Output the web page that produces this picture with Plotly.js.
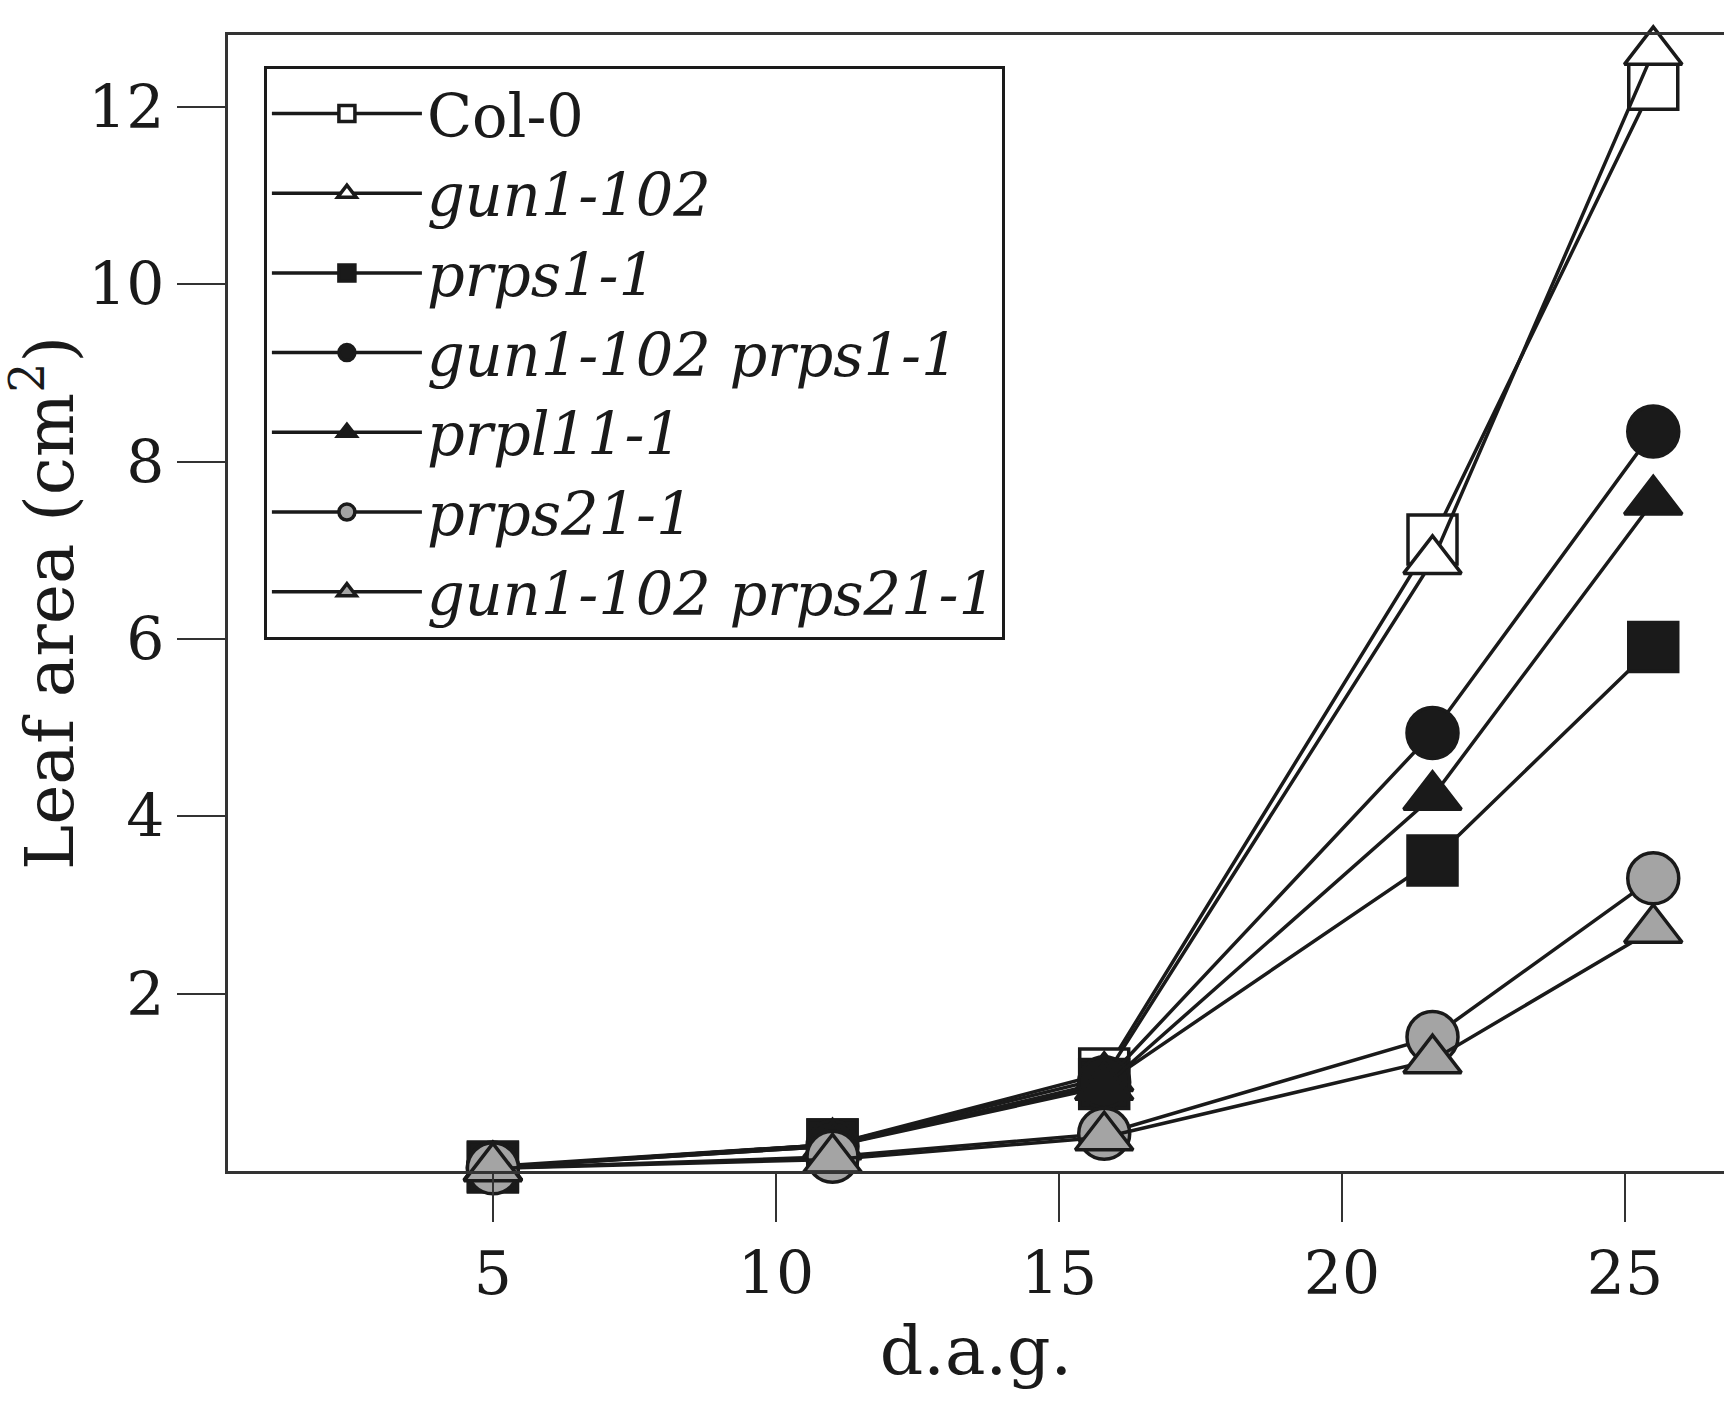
<!DOCTYPE html>
<html><head><meta charset="utf-8">
<script src="https://cdn.plot.ly/plotly-3.0.1.min.js"></script>
<style>html,body{margin:0;padding:0;background:#fff}</style>
</head><body><div id="chart" style="width:1727px;height:1405px"></div>
<script>
// days after germination
const days = [5, 11, 15.8, 21.6, 25.5];
// leaf area (cm2) per genotype
const col0       = [0.04, 0.30, 1.10, 7.12, 12.25];
const gun1       = [0.04, 0.30, 1.05, 6.88, 12.62];
const prps1      = [0.05, 0.30, 0.98, 3.50, 5.91];
const gun1prps1  = [0.04, 0.28, 1.00, 4.94, 8.34];
const prpl11     = [0.04, 0.28, 0.95, 4.22, 7.55];
const prps21     = [0.03, 0.16, 0.42, 1.51, 3.30];
const gun1prps21 = [0.03, 0.13, 0.38, 1.25, 2.72];
const seriesNames = ['Col-0', '<i>gun1-102</i>', '<i>prps1-1</i>', '<i>gun1-102 prps1-1</i>',
                     '<i>prpl11-1</i>', '<i>prps21-1</i>', '<i>gun1-102 prps21-1</i>'];
const yTicks = [2, 4, 6, 8, 10, 12];
const xTicks = [5, 10, 15, 20, 25];

const ink = '#1a1a1a';
const grey = '#a4a4a4';
const values = [col0, gun1, prps1, gun1prps1, prpl11, prps21, gun1prps21];
const symbols = ['square', 'triangle-up', 'square', 'circle', 'triangle-up', 'circle', 'triangle-up'];
const fills = ['#ffffff', '#ffffff', ink, ink, ink, grey, grey];
const sizes = [49, 50, 49, 51, 50, 51, 50];

const traces = values.map((v, i) => ({
  x: days, y: v, name: seriesNames[i], type: 'scatter', mode: 'lines+markers',
  cliponaxis: false,
  line: {color: ink, width: 3.5},
  marker: {symbol: symbols[i], size: sizes[i], color: fills[i], line: {color: ink, width: 3.5}}
}));

const layout = {
  width: 1727, height: 1405,
  margin: {l: 228, r: 3, t: 35, b: 234},
  paper_bgcolor: '#fff', plot_bgcolor: '#fff',
  font: {family: 'DejaVu Serif', color: ink},
  showlegend: true,
  legend: {x: 0.024, y: 0.973, xanchor: 'left', yanchor: 'top',
           bordercolor: ink, borderwidth: 3, bgcolor: '#fff',
           font: {family: 'DejaVu Serif', size: 59, color: ink},
           itemwidth: 150},
  xaxis: {range: [0.32, 26.75], tickvals: xTicks, ticktext: xTicks.map(String),
          ticks: 'outside', ticklen: 48, tickwidth: 2, tickcolor: '#333',
          showline: true, linewidth: 3, linecolor: '#333', mirror: true,
          showgrid: false, zeroline: false,
          tickfont: {family: 'DejaVu Serif', size: 60, color: ink},
          title: {text: 'd.a.g.', font: {family: 'DejaVu Serif', size: 68, color: ink}, standoff: 20}},
  yaxis: {range: [0, 12.81], tickvals: yTicks, ticktext: yTicks.map(String),
          ticks: 'outside', ticklen: 48, tickwidth: 2, tickcolor: '#333',
          showline: true, linewidth: 3.5, linecolor: '#333', mirror: false,
          showgrid: false, zeroline: false,
          tickfont: {family: 'DejaVu Serif', size: 60, color: ink},
          title: {text: 'Leaf area (cm<sup>2</sup>)', font: {family: 'DejaVu Serif', size: 68, color: ink}, standoff: 8}}
};

Plotly.newPlot('chart', traces, layout, {displayModeBar: false, staticPlot: true});
</script>
</body></html>
